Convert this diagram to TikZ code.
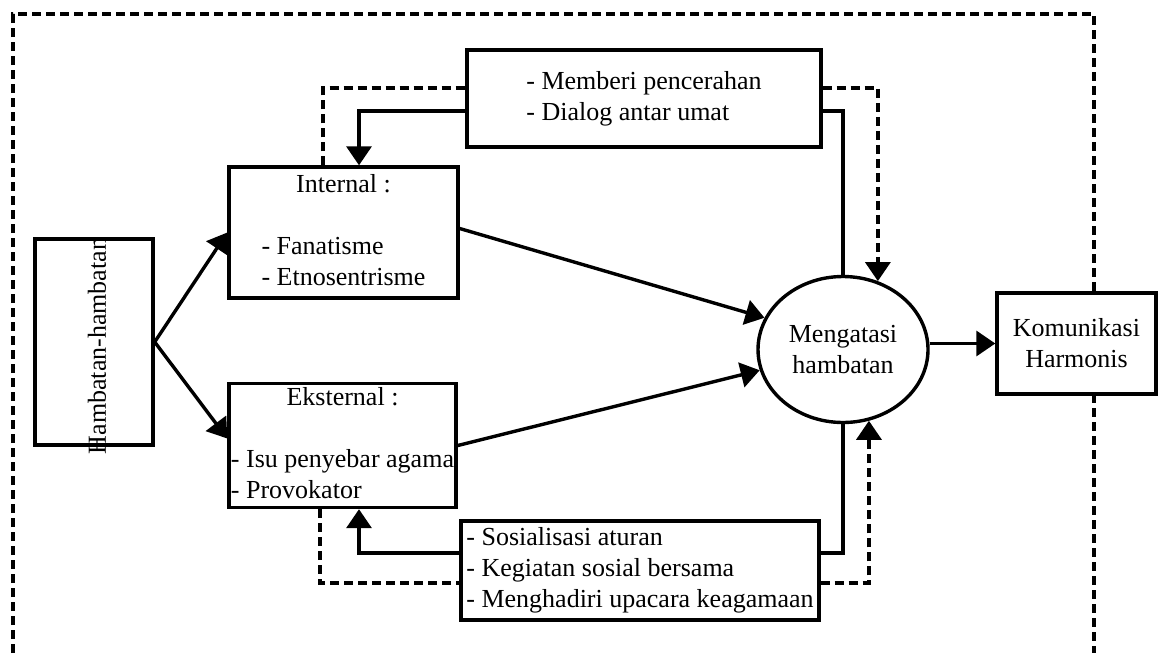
\documentclass[tikz,border=0pt]{standalone}
\usepackage{fontspec}
\setmainfont{Liberation Serif}
\usepackage{tikz}
\usetikzlibrary{arrows.meta,positioning,calc,shapes.geometric}

\begin{document}
\begin{tikzpicture}[
  x=0.5pt, y=-0.5pt,
  font=\fontsize{13}{15.5}\selectfont,
  box/.style={draw, line width=1.7pt, fill=white, inner sep=0pt, align=center},
  oval/.style={draw, ellipse, line width=1.7pt, fill=white, inner sep=0pt, minimum width=85pt, minimum height=73pt, align=center},
  link/.style={line width=1.7pt},
  dline/.style={line width=1.7pt, dash pattern=on 4.5pt off 2.5pt},
  arr/.style={link, -{Triangle[length=9.5pt, width=12.5pt]}},
  darr/.style={dline, -{Triangle[length=9.5pt, width=12.5pt]}}
]
\useasboundingbox (0,0) rectangle (1159,653);
\draw[dline] (13,653) -- (13,14) -- (1094,14) -- (1094,653);

\node[box, minimum width=59pt, minimum height=103pt] (hamb) at (94,342) {};
\node[rotate=90] (hambtxt) at (97,346) {Hambatan-hambatan};
\node[box, minimum width=114.5pt, minimum height=65.5pt] (intern) at (343.5,232.5)
  {\begin{tabular}{@{}l@{}}\multicolumn{1}{@{}c@{}}{Internal :}\\ \\ - Fanatisme\\ - Etnosentrisme\end{tabular}};
\node[box, minimum width=113.5pt, minimum height=61.5pt] (ekstern) at (342.5,445.5)
  {\begin{tabular}{@{}l@{}}\multicolumn{1}{@{}c@{}}{Eksternal :}\\ \\ - Isu penyebar agama\\ - Provokator\end{tabular}};
\node[box, minimum width=177pt, minimum height=48.5pt, align=left] (cerah) at (644,98.5)
  {- Memberi pencerahan\\- Dialog antar umat};
\node[box, minimum width=179pt, minimum height=49.5pt, align=left] (sosial) at (640,570.5)
  {- Sosialisasi aturan\\- Kegiatan sosial bersama\\- Menghadiri upacara keagamaan};
\node[oval] (atasi) at (843,349.5) {Mengatasi\\hambatan};
\node[box, minimum width=79.5pt, minimum height=50.5pt] (harmonis) at (1076.5,343.5) {Komunikasi\\Harmonis};

\draw[arr] (hamb.east) -- (intern.west);
\draw[arr] (hamb.east) -- ([yshift=3.5pt]ekstern.west);
\draw[arr] ([yshift=2pt]intern.east) -- (atasi.158);
\draw[arr] (ekstern.east) -- (atasi.194);
\draw[arr] (atasi.east |- harmonis.west) -- (harmonis.west);

\draw[arr] ([yshift=-6.25pt]cerah.west) -| ([xshift=7.75pt]intern.north);
\draw[dline] ([xshift=-10.25pt]intern.north) |- ([yshift=5.25pt]cerah.west);
\draw[link] ([yshift=-6.25pt]cerah.east) -| (atasi.north);
\draw[darr] ([yshift=5.25pt]cerah.east) -| (atasi.63);

\draw[arr] ([yshift=8.75pt]sosial.west) -| ([xshift=8.25pt]ekstern.south);
\draw[dline] ([xshift=-11.25pt]ekstern.south) |- ([yshift=-6.25pt]sosial.west);
\draw[link] ([yshift=8.75pt]sosial.east) -| (atasi.south);
\draw[darr] ([yshift=-6.25pt]sosial.east) -| (atasi.290);
\end{tikzpicture}
\end{document}
